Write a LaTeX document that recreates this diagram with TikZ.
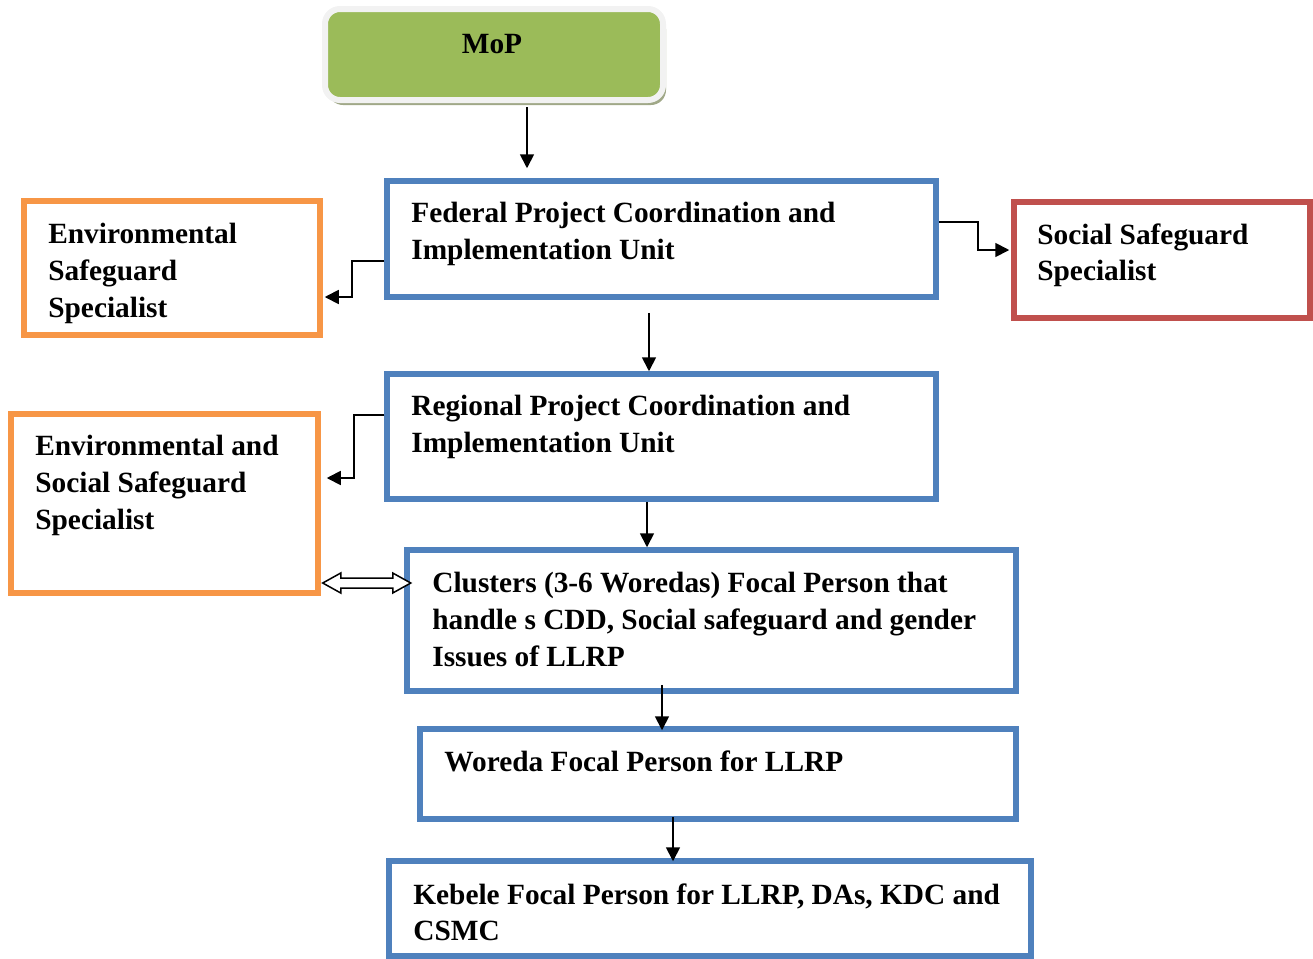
\documentclass[tikz,border=0pt]{standalone}
\usepackage{fontspec}
\setmainfont{Liberation Serif}
\usetikzlibrary{arrows.meta,shadows}
\definecolor{boxblue}{RGB}{79,129,189}
\definecolor{boxorange}{RGB}{247,150,70}
\definecolor{boxred}{RGB}{192,80,77}
\definecolor{mopgreen}{RGB}{155,187,89}
\definecolor{mopedge}{RGB}{242,242,242}
\definecolor{mopshade}{RGB}{160,168,136}

\begin{document}
\begin{tikzpicture}[
    unitbox/.style={draw=boxblue,line width=0.11cm},
    esbox/.style={draw=boxorange,line width=0.11cm},
    ssbox/.style={draw=boxred,line width=0.11cm},
    mopbox/.style={draw=mopedge,fill=mopgreen,line width=0.12cm,rounded corners=0.3cm,
        drop shadow={shadow xshift=0.06cm,shadow yshift=-0.1cm,fill=mopshade,opacity=1}},
    lbl/.style={anchor=north west,inner sep=0pt,align=left,font=\fontsize{16.7}{21}\selectfont\bfseries},
    arr/.style={-{Triangle[length=0.28cm,width=0.28cm]},line width=0.035cm}
]
    \useasboundingbox (0,0) rectangle (26.26,-19.16);

    \node[mopbox,minimum width=6.76cm,minimum height=1.82cm] (mop) at (9.88,-1.09) {};
    \node[lbl,anchor=center] (mop-t) at (9.84,-0.88) {MoP};

    \node[unitbox,minimum width=10.98cm,minimum height=2.32cm] (fpciu) at (13.23,-4.78) {};
    \node[lbl] (fpciu-t) at (8.22,-4.04) {Federal Project Coordination and\\Implementation Unit};

    \node[ssbox,minimum width=5.92cm,minimum height=2.32cm] (ssp) at (23.24,-5.2) {};
    \node[lbl] (ssp-t) at (20.74,-4.46) {Social Safeguard\\Specialist};

    \node[esbox,minimum width=5.92cm,minimum height=2.68cm] (esp) at (3.44,-5.36) {};
    \node[lbl] (esp-t) at (0.96,-4.46) {Environmental\\Safeguard\\Specialist};

    \node[unitbox,minimum width=10.98cm,minimum height=2.5cm] (rpciu) at (13.23,-8.73) {};
    \node[lbl] (rpciu-t) at (8.22,-7.9) {Regional Project Coordination and\\Implementation Unit};

    \node[esbox,minimum width=6.14cm,minimum height=3.58cm] (esss) at (3.29,-10.07) {};
    \node[lbl] (esss-t) at (0.7,-8.7) {Environmental and\\Social Safeguard\\Specialist};

    \node[unitbox,minimum width=12.18cm,minimum height=2.82cm] (clus) at (14.23,-12.41) {};
    \node[lbl] (clus-t) at (8.64,-11.44) {Clusters (3-6 Woredas) Focal Person that\\handle s CDD, Social safeguard and gender\\Issues of LLRP};

    \node[unitbox,minimum width=11.92cm,minimum height=1.8cm] (wfp) at (14.36,-15.48) {};
    \node[lbl] (wfp-t) at (8.88,-15.0) {Woreda Focal Person for LLRP};

    \node[unitbox,minimum width=12.84cm,minimum height=1.9cm] (kfp) at (14.2,-18.17) {};
    \node[lbl] (kfp-t) at (8.26,-17.66) {Kebele Focal Person for LLRP, DAs, KDC and\\CSMC};

    % connectors
    \draw[arr,shorten <=0.08cm,shorten >=0.2cm] ([xshift=0.66cm]mop.south) -- ([xshift=0.66cm]mop.south |- fpciu.north);
    \draw[arr] ([yshift=0.34cm]fpciu.east) -- ++(0.78,0) |- ([yshift=0.2cm,xshift=-0.04cm]ssp.west);
    \draw[arr] ([yshift=-0.44cm]fpciu.west) -- ++(-0.64,0) |- ([yshift=-0.58cm,xshift=0.04cm]esp.east);
    \draw[arr,shorten <=0.26cm] ([xshift=-0.25cm]fpciu.south) -- ([xshift=-0.25cm]fpciu.south |- rpciu.north);
    \draw[arr] ([yshift=0.43cm]rpciu.west) -- ++(-0.6,0) |- ([yshift=0.51cm,xshift=0.12cm]esss.east);
    \draw[arr] ([xshift=-0.29cm]rpciu.south) -- ([xshift=-0.29cm]rpciu.south |- clus.north);
    \draw[arr] ([xshift=-0.99cm,yshift=0.18cm]clus.south) -- ([xshift=-0.99cm,yshift=-0.08cm]clus.south |- wfp.north);
    \draw[arr] ([xshift=-0.9cm,yshift=0.1cm]wfp.south) -- ([xshift=-0.9cm,yshift=-0.06cm]wfp.south |- kfp.north);

    \coordinate (dbl) at ([xshift=0.04cm,yshift=-1.59cm]esss.east);
    \draw[line width=0.03cm,fill=white] (dbl) -- ++(0.36,0.2) -- ++(0,-0.1) -- ++(1.04,0) -- ++(0,0.1)
        -- ++(0.36,-0.2) -- ++(-0.36,-0.2) -- ++(0,0.1) -- ++(-1.04,0) -- ++(0,-0.1) -- cycle;
\end{tikzpicture}
\end{document}
